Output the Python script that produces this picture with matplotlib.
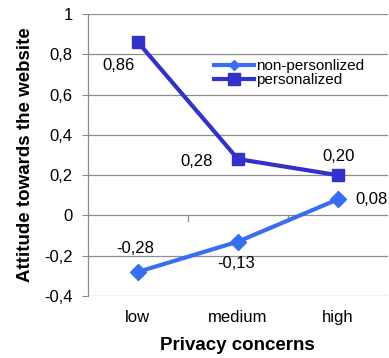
import matplotlib
matplotlib.use("Agg")
import matplotlib.pyplot as plt
from matplotlib.lines import Line2D
import numpy as np

categories = ["low", "medium", "high"]
non_personalized = [-0.28, -0.13, 0.08]
personalized = [0.86, 0.28, 0.20]
yticks = [-0.4, -0.2, 0, 0.2, 0.4, 0.6, 0.8, 1.0]

plt.rcParams['font.family'] = ['Liberation Sans', 'DejaVu Sans']

fig = plt.figure(figsize=(3.89, 3.58), dpi=100)
ax = fig.add_axes([0.226, 0.173, 0.771, 0.788])
x = np.arange(len(categories))

grid_c = "#8c8c8c"
c_np = "#3a6ef0"
c_p = "#3232c8"
for yv in yticks:
    ax.axhline(yv, color=grid_c, lw=0.9, zorder=0)

ax.plot(x, non_personalized, color=c_np, lw=3, marker="D", ms=8, zorder=3)
ax.plot(x, personalized, color=c_p, lw=3, marker="s", ms=9, zorder=3)

fmt = lambda v: ("%.2f" % v).replace(".", ",")
offsets_np = [(-2, 16.5), (-1.5, -16), (24, 0)]
offsets_p = [(-14, -17), (-30, -1.5), (0.7, 13.7)]
for xi, v, (dx, dy) in zip(x, non_personalized, offsets_np):
    ax.annotate(fmt(v), (xi, v), xytext=(dx, dy), textcoords="offset points",
                ha="center", va="center", fontsize=12, annotation_clip=False)
for xi, v, (dx, dy) in zip(x, personalized, offsets_p):
    ax.annotate(fmt(v), (xi, v), xytext=(dx, dy), textcoords="offset points",
                ha="center", va="center", fontsize=12, annotation_clip=False)

ax.set_xlim(-0.5, 2.5)
ax.set_ylim(-0.4, 1.0)
ax.set_yticks(yticks)
ax.set_yticklabels([("%g" % v).replace(".", ",") if v != 0 else "0" for v in yticks], fontsize=12)
ax.set_xticks(x)
ax.set_xticklabels(categories, fontsize=12)
ax.tick_params(axis='x', length=0, pad=10)
ax.tick_params(axis='y', length=4, color=grid_c, pad=7)
for xb in [0.5, 1.5]:
    ax.plot([xb, xb], [0, -0.025], color=grid_c, lw=0.9, zorder=1)

for s in ["top", "right", "bottom"]:
    ax.spines[s].set_visible(False)
ax.spines["left"].set_color(grid_c)
ax.spines["left"].set_linewidth(0.9)

ax.set_xlabel("Privacy concerns", fontsize=13.5, fontweight="bold", labelpad=9)
ax.set_ylabel("Attitude towards the website", fontsize=13.5, fontweight="bold", labelpad=7)

handles = [Line2D([], [], color=c_np, lw=3, marker="D", ms=5),
           Line2D([], [], color=c_p, lw=3, marker="s", ms=9)]
leg = ax.legend(handles, ["non-personlized", "personalized"],
                loc="upper left", bbox_to_anchor=(0.41, 0.85), frameon=False,
                fontsize=11, handlelength=2.6, handletextpad=0.15,
                labelspacing=0.0, borderpad=0.2, borderaxespad=0)

fig.savefig("out.png", dpi=100)
